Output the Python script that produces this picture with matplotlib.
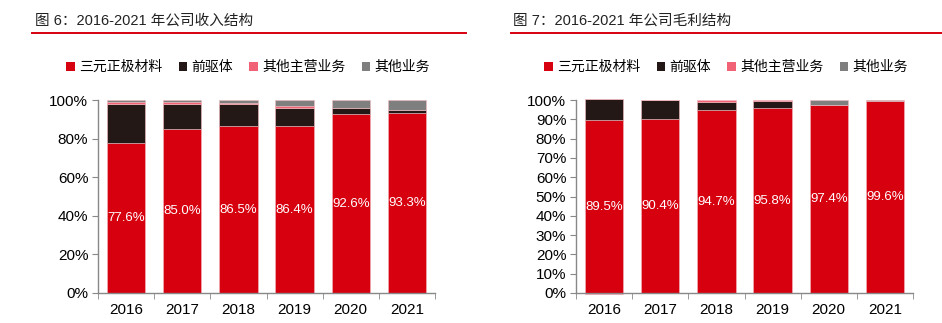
import numpy as np
import matplotlib.pyplot as plt
from matplotlib.patches import Patch
from matplotlib.lines import Line2D

plt.rcParams['font.family'] = ['Liberation Sans', 'Noto Sans CJK SC']

years = ['2016', '2017', '2018', '2019', '2020', '2021']
series = ['三元正极材料', '前驱体', '其他主营业务', '其他业务']
colors = ['#D7000F', '#231815', '#F26277', '#7F7F7F']

# revenue structure (%)
rev_ncm = [77.6, 85.0, 86.5, 86.4, 92.6, 93.3]
rev_pre = [20.4, 12.9, 11.2, 9.5, 3.0, 1.3]
rev_oth_main = [1.0, 1.0, 0.7, 1.0, 0.1, 0.0]
rev_oth = [1.0, 1.1, 1.6, 3.1, 4.3, 5.4]

# gross profit structure (%)
gp_ncm = [89.5, 90.4, 94.7, 95.8, 97.4, 99.6]
gp_pre = [10.8, 9.6, 4.1, 3.6, 0.0, 0.0]
gp_oth_main = [-0.3, 0.0, 1.2, 0.8, 0.0, 0.0]
gp_oth = [0.0, 0.0, 0.0, -0.2, 2.6, 0.4]

fig = plt.figure(figsize=(9.42, 3.23), dpi=100)


def draw(ax, data, yticks):
    x = np.arange(len(years))
    pos = np.zeros(len(years))
    neg = np.zeros(len(years))
    for vals, c in zip(data, colors):
        vals = np.array(vals)
        bottom = np.where(vals >= 0, pos, neg)
        ax.bar(x, vals, 0.68, bottom=bottom, color=c, edgecolor='#F3B8BE',
               linewidth=0.4, clip_on=False, zorder=2)
        pos += np.clip(vals, 0, None)
        neg += np.clip(vals, None, 0)
    for i, v in enumerate(data[0]):
        ax.text(x[i], v / 2, f'{v:.1f}%', ha='center', va='center',
                color='white', fontsize=9.5)
    ax.set_xlim(-0.5, 5.5)
    ax.set_ylim(0, 100)
    ax.set_xticks(x)
    ax.set_xticklabels(years, fontsize=11)
    ax.set_xticks(np.arange(-0.5, 6, 1), minor=True)
    ax.tick_params(axis='x', which='major', length=0, pad=7)
    ax.tick_params(axis='x', which='minor', length=4, direction='out', color='#888888')
    ax.set_yticks(yticks)
    ax.set_yticklabels([f'{t}%' for t in yticks], fontsize=11)
    ax.tick_params(axis='y', length=4, direction='out', color='#888888', pad=3)
    for s in ['top', 'right']:
        ax.spines[s].set_visible(False)
    for s in ['left', 'bottom']:
        ax.spines[s].set_color('#888888')
        ax.spines[s].set_linewidth(1.0)


ax1 = fig.add_axes([98 / 942, 30 / 323, 337 / 942, 193 / 323])
draw(ax1, [rev_ncm, rev_pre, rev_oth_main, rev_oth], list(range(0, 101, 20)))

ax2 = fig.add_axes([576 / 942, 30 / 323, 337 / 942, 193 / 323])
draw(ax2, [gp_ncm, gp_pre, gp_oth_main, gp_oth], list(range(0, 101, 10)))

# titles with red rule underneath
fig.text(35 / 942, 1 - 21 / 323, '图 6：2016-2021 年公司收入结构', fontsize=10.5,
         color='#222222', va='center', ha='left')
fig.text(513 / 942, 1 - 21 / 323, '图 7：2016-2021 年公司毛利结构', fontsize=10.5,
         color='#222222', va='center', ha='left')
for x0, x1 in [(32, 466), (511, 942)]:
    fig.add_artist(Line2D([x0 / 942, x1 / 942], [1 - 33 / 323, 1 - 33 / 323],
                          color='#D7000F', linewidth=1.4))

handles = [Patch(facecolor=c, edgecolor='none') for c in colors]
for cx in [248 / 942, 726 / 942]:
    fig.legend(handles, series, loc='center', bbox_to_anchor=(cx, 1 - 67 / 323),
               ncol=4, frameon=False, fontsize=10, handlelength=0.6,
               handleheight=0.6, handletextpad=0.3, columnspacing=1.2)

fig.savefig('out.png', dpi=100)
